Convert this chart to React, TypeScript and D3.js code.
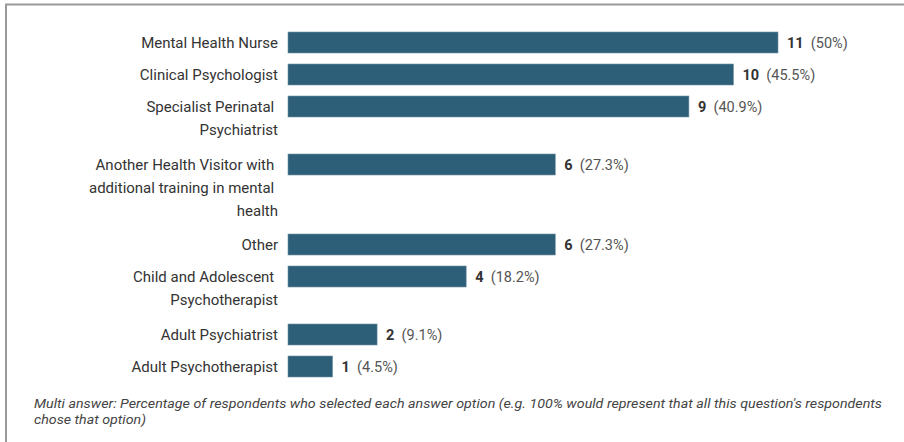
import React, { useEffect, useRef } from 'react';
import * as d3 from 'd3';

// categories (wrapped lines as in the original layout)
const categories: string[][] = [
  ['Mental Health Nurse'],
  ['Clinical Psychologist'],
  ['Specialist Perinatal ', 'Psychiatrist'],
  ['Another Health Visitor with ', 'additional training in mental ', 'health'],
  ['Other'],
  ['Child and Adolescent ', 'Psychotherapist'],
  ['Adult Psychiatrist'],
  ['Adult Psychotherapist'],
];
const counts = [11, 10, 9, 6, 6, 4, 2, 1];
const percents = ['50%', '45.5%', '40.9%', '27.3%', '27.3%', '18.2%', '9.1%', '4.5%'];
const footnote = [
  "Multi answer: Percentage of respondents who selected each answer option (e.g. 100% would represent that all this question's respondents",
  'chose that option)',
];
const footnoteWidths = [848, 112];

const W = 904;
const H = 442;

const App: React.FC = () => {
  const svgRef = useRef<SVGSVGElement>(null);

  useEffect(() => {
    if (!svgRef.current) return;
    const svg = d3.select(svgRef.current);
    svg.selectAll('*').remove();

    const font = 'Roboto, "Noto Sans", sans-serif';
    const left = 288;
    const top = 32;
    const barH = 21;
    const lineH = 23;

    // frame
    svg.append('path')
      .attr('d', `M 6 ${H} L 6 4.5 L ${W} 4.5`)
      .attr('fill', 'none')
      .attr('stroke', '#999')
      .attr('stroke-width', 2);

    const names = categories.map(c => c.join(''));
    // row heights depend on number of wrapped lines
    const rowH = categories.map(c => 32 + 24 * (c.length - 1) + (c.length === 2 ? 2 : 0));
    const offsets = d3.cumsum([0, ...rowH.slice(0, -1)]).map(v => top + v);
    const y = d3.scaleOrdinal<string, number>().domain(names).range(Array.from(offsets));

    const x = d3.scaleLinear().domain([0, 11]).range([left, 778]);

    const g = svg.append('g');

    categories.forEach((lines, i) => {
      const name = names[i];
      const by = y(name);
      const cy = by + barH / 2;

      g.append('rect')
        .attr('x', x(0))
        .attr('y', by)
        .attr('width', x(counts[i]) - x(0))
        .attr('height', barH)
        .attr('fill', '#2e5f78')
        .attr('stroke', '#6f91a3')
        .attr('stroke-width', 0.6);

      const label = g.append('text')
        .attr('x', 278)
        .attr('y', cy)
        .attr('text-anchor', 'end')
        .attr('dominant-baseline', 'central')
        .style('font-family', font)
        .style('font-size', '15px')
        .style('fill', '#333')
        .style('white-space', 'pre');
      lines.forEach((ln, j) => {
        label.append('tspan')
          .attr('x', 278)
          .attr('y', cy + j * lineH)
          .text(ln);
      });

      const val = g.append('text')
        .attr('x', x(counts[i]) + 9)
        .attr('y', cy)
        .attr('dominant-baseline', 'central')
        .style('font-family', font)
        .style('font-size', '14.5px')
        .style('white-space', 'pre');
      val.append('tspan')
        .style('font-weight', 'bold')
        .style('fill', '#333')
        .text(String(counts[i]));
      val.append('tspan')
        .style('fill', '#555')
        .text(`  (${percents[i]})`);
    });

    footnote.forEach((ln, j) => {
      svg.append('text')
        .attr('x', 34)
        .attr('y', 408 + j * 16)
        .attr('textLength', footnoteWidths[j])
        .attr('lengthAdjust', 'spacingAndGlyphs')
        .style('font-family', font)
        .style('font-size', '12px')
        .style('font-style', 'italic')
        .style('fill', '#444')
        .text(ln);
    });
  }, []);

  return (
    <svg
      ref={svgRef}
      width={W}
      height={H}
      viewBox={`0 0 ${W} ${H}`}
      style={{ position: 'absolute', left: 0, top: 0, background: '#fff' }}
    />
  );
};

export default App;
